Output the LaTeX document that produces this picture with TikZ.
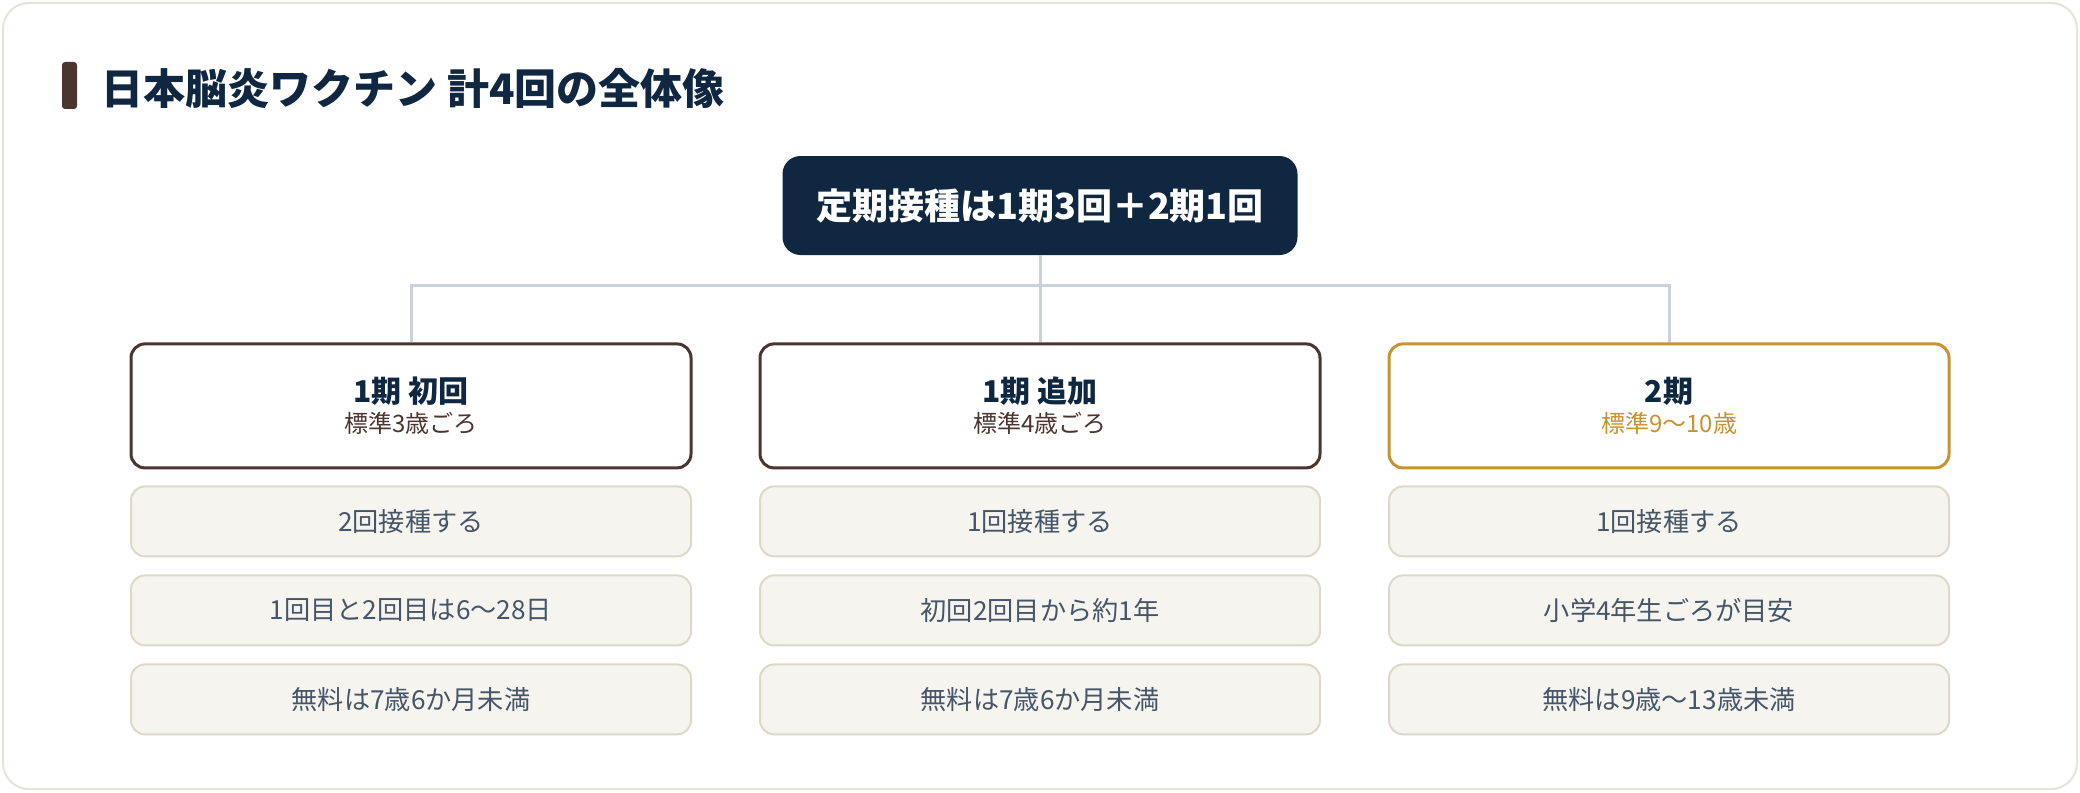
\documentclass[tikz,border=0pt]{standalone}
\usepackage{fontspec}
\setmainfont{Noto Sans CJK JP}
\usepackage{tikz}
\usetikzlibrary{positioning}

\definecolor{navy}{HTML}{0F2740}
\definecolor{bark}{HTML}{4A3530}
\definecolor{gold}{HTML}{C8922F}
\definecolor{wiregray}{HTML}{CBD1DA}
\definecolor{itemfill}{HTML}{F6F4EF}
\definecolor{itemline}{HTML}{DDD8C8}
\definecolor{itemtext}{HTML}{465568}
\definecolor{frame}{HTML}{E6E3D8}

\tikzset{
    head/.style = {draw=bark, line width=1.5pt, rounded corners=7pt, fill=white,
                   minimum width=280pt, minimum height=62pt, inner sep=0pt, align=center},
    item/.style = {draw=itemline, line width=1pt, rounded corners=7pt, fill=itemfill,
                   minimum width=280pt, minimum height=35pt, inner sep=0pt,
                   text=itemtext, font=\fontsize{13.1}{15}\selectfont},
    wire/.style = {draw=wiregray, line width=1.5pt}
}

\newcommand{\headtext}[3]{{\bfseries\color{navy}\fontsize{15}{18}\selectfont #1}\\[3pt]{\color{#3}\fontsize{12}{14}\selectfont #2}}

\begin{document}
\begin{tikzpicture}
        \useasboundingbox (0,0) rectangle (1040pt,-396pt);
        \draw[frame, line width=1pt, rounded corners=13pt] (1.5pt,-1.5pt) rectangle (1038.5pt,-394.5pt);
        %---------------------------
        \fill[bark, rounded corners=1.5pt] (31pt,-31pt) rectangle (38.5pt,-54.5pt);
        \node[anchor=west, inner sep=0pt, text=navy, font=\bfseries\fontsize{21}{25}\selectfont] (title) at (50.5pt,-44pt) {日本脳炎ワクチン 計4回の全体像};
        %---------------------------
        \node[fill=navy, rounded corners=9pt, minimum width=257.5pt, minimum height=49.5pt, inner sep=0pt, text=white, font=\bfseries\fontsize{18}{22}\selectfont] (root) at (520pt,-102.75pt) {定期接種は1期3回＋2期1回};
        \node[head, below=43.5pt of root] (p2) {\headtext{1期 追加}{標準4歳ごろ}{bark}};
        \node[head, left=33pt of p2] (p1) {\headtext{1期 初回}{標準3歳ごろ}{bark}};
        \node[head, draw=gold, right=33pt of p2] (p3) {\headtext{2期}{標準9〜10歳}{gold}};
        %---------------------------
        \node[item, below=8pt of p1] (p1a) {2回接種する};
        \node[item, below=8.5pt of p1a] (p1b) {1回目と2回目は6〜28日};
        \node[item, below=8.5pt of p1b] (p1c) {無料は7歳6か月未満};
        \node[item, below=8pt of p2] (p2a) {1回接種する};
        \node[item, below=8.5pt of p2a] (p2b) {初回2回目から約1年};
        \node[item, below=8.5pt of p2b] (p2c) {無料は7歳6か月未満};
        \node[item, below=8pt of p3] (p3a) {1回接種する};
        \node[item, below=8.5pt of p3a] (p3b) {小学4年生ごろが目安};
        \node[item, below=8.5pt of p3b] (p3c) {無料は9歳〜13歳未満};
        %--------------------------
        \coordinate (hub) at (520pt,-142.5pt);
        \path[wire] (root.south) -- (hub);
        \path[wire] (p1.north) |- (hub) -| (p3.north);
        \path[wire] (hub) -- (p2.north);
        \end{tikzpicture}
\end{document}
